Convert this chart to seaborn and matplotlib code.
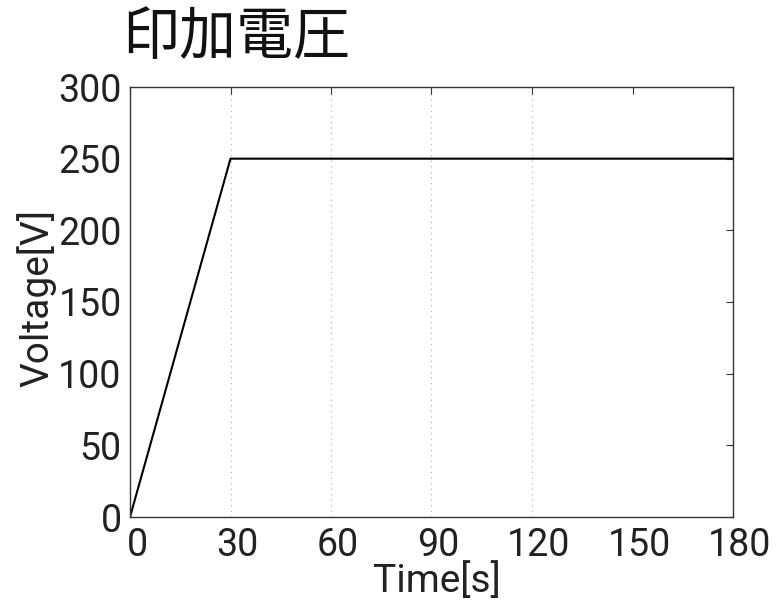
import matplotlib
matplotlib.use("Agg")
import matplotlib.pyplot as plt
import matplotlib.transforms as mtransforms
import seaborn as sns
import pandas as pd

# Applied voltage ramp: linear rise to 250 V in 30 s, then held
time_s = [0, 30, 180]
voltage_v = [0, 250, 250]
x_ticks = [0, 30, 60, 90, 120, 150, 180]
y_ticks = [0, 50, 100, 150, 200, 250, 300]
grid_x = [30, 60, 90, 120]

sns.set_theme(style="white")
plt.rcParams["font.family"] = ["Roboto", "Noto Sans CJK JP", "DejaVu Sans"]

df = pd.DataFrame({"Time[s]": time_s, "Voltage[V]": voltage_v})

fig = plt.figure(figsize=(7.84, 6.01), dpi=100)
ax = fig.add_axes([130 / 784, 1 - 517 / 601, 603 / 784, 430 / 601])

for gx in grid_x:
    ax.axvline(gx, color="#b0b0b0", linestyle=(0, (1, 4)), linewidth=0.8, zorder=0)

sns.lineplot(data=df, x="Time[s]", y="Voltage[V]", ax=ax, color="black",
             linewidth=1.5, estimator=None, sort=False)

ax.set_xlim(0, 180)
ax.set_ylim(0, 300)
ax.set_xticks(x_ticks)
ax.set_yticks(y_ticks)
ax.tick_params(axis="both", direction="in", length=5, width=0.8, color="#333333",
               labelsize=27, top=True, right=True, labelcolor="#222222")
ax.tick_params(axis="x", pad=7)
ax.tick_params(axis="y", pad=6)
for s in ax.spines.values():
    s.set_color("#333333")
    s.set_linewidth(1.0)

# x tick labels sit slightly right of their ticks
shift = mtransforms.ScaledTranslation(7 / 100, 0, fig.dpi_scale_trans)
for lbl in ax.get_xticklabels():
    lbl.set_transform(lbl.get_transform() + shift)

ax.set_xlabel("Time[s]", fontsize=28, color="#222222")
ax.xaxis.set_label_coords(0.509, -0.105)
ax.xaxis.label.set_va("top")
ax.set_ylabel("Voltage[V]", fontsize=28, color="#222222")
ax.yaxis.set_label_coords(-0.122, 0.51)

fig.text(122 / 784, 1 - 54 / 601, "印加電圧", fontsize=41,
         family=["Noto Sans CJK JP", "DejaVu Sans"], color="#111111", va="baseline")

fig.savefig("out.png", dpi=100)
